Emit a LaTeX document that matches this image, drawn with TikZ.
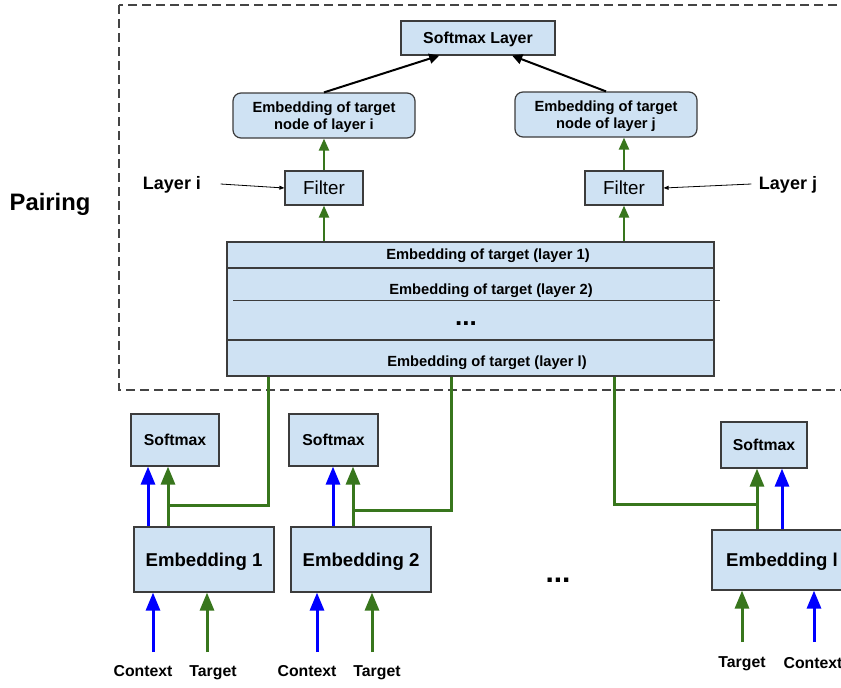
\documentclass[tikz,border=0pt]{standalone}
\usepackage{fontspec}
\setmainfont{Liberation Sans}
\usetikzlibrary{arrows.meta,calc}
\definecolor{boxfill}{HTML}{CFE2F3}
\definecolor{boxdraw}{HTML}{3C3C3C}
\definecolor{gline}{HTML}{38761D}
\definecolor{bline}{HTML}{0000FF}
\definecolor{framecol}{HTML}{444444}
\begin{document}
\begin{tikzpicture}[x=1pt,y=-1pt,
  box/.style={draw=boxdraw,fill=boxfill,line width=1.2pt,inner sep=0pt,align=center,text depth=0pt},
  rbox/.style={box,rounded corners=8pt},
  fSL/.style={font=\fontsize{15.9}{18}\selectfont\bfseries},
  fET/.style={font=\fontsize{14.7}{17.3}\selectfont\bfseries},
  fST/.style={font=\fontsize{14.7}{17}\selectfont\bfseries},
  fFI/.style={font=\fontsize{18.8}{21}\selectfont},
  fSM/.style={font=\fontsize{15.8}{18}\selectfont\bfseries},
  fEM/.style={font=\fontsize{18.6}{21}\selectfont\bfseries},
  fIN/.style={font=\fontsize{15.8}{18}\selectfont\bfseries},
  fLY/.style={font=\fontsize{18}{20}\selectfont\bfseries},
  frame/.style={draw=framecol,line width=2pt,dash pattern=on 9pt off 5pt},
  garrow/.style={draw=gline,line width=2.2pt,-{Triangle[width=10pt,length=12pt]}},
  karrow/.style={draw=black,line width=2pt,-{Triangle[width=10pt,length=10pt]}},
  tarrow/.style={draw=black,line width=0.8pt,-{Triangle[width=4pt,length=5pt]}},
  bigg/.style={draw=gline,line width=3pt,-{Triangle[width=14pt,length=18pt]}},
  bigb/.style={draw=bline,line width=3pt,-{Triangle[width=14pt,length=18pt]}},
  gwire/.style={draw=gline,line width=3pt}
]
\useasboundingbox (0,0) rectangle (841,688);
\begin{scope}
\clip (0,0) rectangle (841,688);
\fill[white] (0,0) rectangle (841,688);

% pairing frame
\draw[frame] (119,5) rectangle (870,390);
\node[font=\fontsize{23.8}{26}\selectfont\bfseries] (pairing) at (50,204) {Pairing};

% top nodes
\node[box,fSL,minimum width=154pt,minimum height=34pt] (sl) at (478,38) {Softmax Layer};
\node[rbox,fET,minimum width=182pt,minimum height=45pt] (ei) at (324,115.5) {Embedding of target\\node of layer i};
\node[rbox,fET,minimum width=182pt,minimum height=45pt] (ej) at (606,114.5) {Embedding of target\\node of layer j};
\node[box,fFI,minimum width=78pt,minimum height=34pt] (fi) at (324,188) {Filter};
\node[box,fFI,minimum width=78pt,minimum height=34pt] (fj) at (624,188) {Filter};
\node[fLY] (li) at (172,185) {Layer i};
\node[fLY] (lj) at (788,185) {Layer j};

% stack
\node[box,minimum width=487pt,minimum height=134pt] (stack) at (470.5,309) {};
\draw[draw=boxdraw,line width=1.2pt] (227,268) -- (714,268);
\draw[draw=boxdraw,line width=1.2pt] (233,300.5) -- (720,300.5);
\draw[draw=boxdraw,line width=1.2pt] (227,340) -- (714,340);
\node[fST] (r1) at (488,255.5) {Embedding of target (layer 1)};
\node[fST] (r2) at (491,290.5) {Embedding of target (layer 2)};
\node[font=\fontsize{26}{28}\selectfont\bfseries] (r3) at (466,324) {...};
\node[fST] (r4) at (487,362.5) {Embedding of target (layer l)};

% top connectors
\draw[karrow] (ei.north) -- ($(sl.south west)!0.25!(sl.south east)$);
\draw[karrow] (ej.north) -- ($(sl.south west)!0.72!(sl.south east)$);
\draw[garrow] (fi.north) -- (ei.south);
\draw[garrow] (fj.north) -- (ej.south -| fj);
\draw[garrow] (stack.north -| fi) -- (fi.south);
\draw[garrow] (stack.north -| fj) -- (fj.south);
\draw[tarrow] ($(li.east)+(16,-1)$) -- (fi.west);
\draw[tarrow] ($(lj.west)+(-4,-1)$) -- (fj.east);

% bottom boxes
\node[box,fSM,minimum width=88pt,minimum height=52pt] (s1) at (175,440) {Softmax};
\node[box,fSM,minimum width=89pt,minimum height=52pt] (s2) at (333.5,440) {Softmax};
\node[box,fSM,minimum width=86pt,minimum height=46pt] (s3) at (764,445) {Softmax};
\node[box,fEM,minimum width=140pt,minimum height=65pt] (e1) at (204,559.5) {Embedding 1};
\node[box,fEM,minimum width=140pt,minimum height=65pt] (e2) at (361,559.5) {Embedding 2};
\node[box,fEM,minimum width=140pt,minimum height=60pt] (el) at (782,560) {Embedding l};
\node[font=\fontsize{30}{32}\selectfont\bfseries] (dots) at (558,580) {...};

% junction coordinates
\coordinate (c1b) at (148,0); \coordinate (c1g) at (168,505);
\coordinate (t1) at (268,505);
\coordinate (c2b) at (333,0); \coordinate (c2g) at (353,510);
\coordinate (t2) at (451,510);
\coordinate (c3g) at (757,504); \coordinate (c3b) at (782,0);
\coordinate (t3) at (614,504);

% green wires from stack
\draw[gwire] (stack.south -| t1) -- (t1) -- (c1g);
\draw[gwire] (stack.south -| t2) -- (t2) -- (c2g);
\draw[gwire] (stack.south -| t3) -- (t3) -- (c3g);

% up arrows embedding -> softmax
\draw[bigb] (e1.north -| c1b) -- (s1.south -| c1b);
\draw[bigg] (e1.north -| c1g) -- (s1.south -| c1g);
\draw[bigb] (e2.north -| c2b) -- (s2.south -| c2b);
\draw[bigg] (e2.north -| c2g) -- (s2.south -| c2g);
\draw[bigg] (el.north -| c3g) -- (s3.south -| c3g);
\draw[bigb] (el.north -| c3b) -- (s3.south -| c3b);

% inputs
\node[fIN] (ctx1) at (143,671.5) {Context};
\node[fIN] (tgt1) at (213,672.5) {Target};
\node[fIN] (ctx2) at (307,671.5) {Context};
\node[fIN] (tgt2) at (377,672.5) {Target};
\node[fIN] (tgt3) at (742,663.5) {Target};
\node[fIN] (ctx3) at (813,663.5) {Context};
\coordinate (i1b) at (153,652); \coordinate (i1g) at (207,652);
\coordinate (i2b) at (317,652); \coordinate (i2g) at (372,652);
\coordinate (i3g) at (742,642); \coordinate (i3b) at (814,642);
\draw[bigb] (i1b) -- (e1.south -| i1b);
\draw[bigg] (i1g) -- (e1.south -| i1g);
\draw[bigb] (i2b) -- (e2.south -| i2b);
\draw[bigg] (i2g) -- (e2.south -| i2g);
\draw[bigg] (i3g) -- (el.south -| i3g);
\draw[bigb] (i3b) -- (el.south -| i3b);
\end{scope}
\end{tikzpicture}
\end{document}
